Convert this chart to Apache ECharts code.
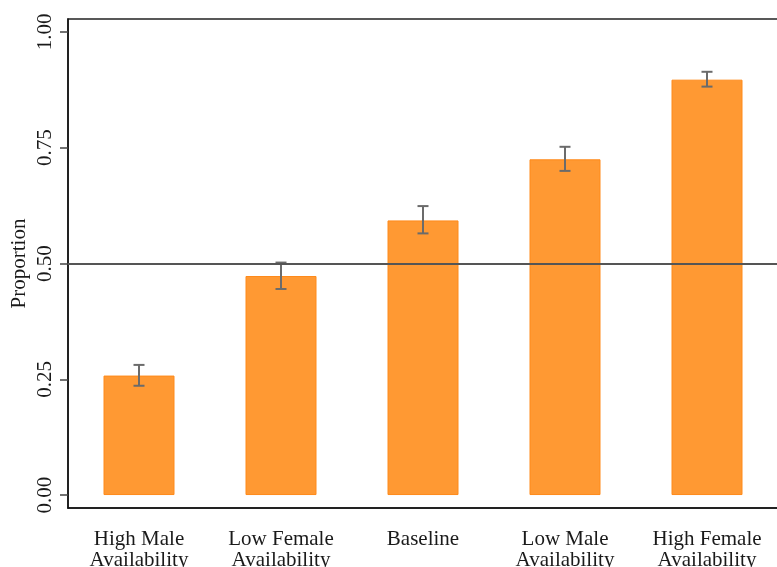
<!DOCTYPE html>
<html>
<head>
<meta charset="utf-8">
<script src="https://cdn.jsdelivr.net/npm/echarts@6/dist/echarts.min.js"></script>
<style>
  html, body { margin: 0; padding: 0; background: #fff; }
  #chart { width: 777px; height: 567px; }
</style>
</head>
<body>
<div id="chart"></div>
<script>
// Treatment conditions along the x axis
const categories = [
  'High Male\nAvailability',
  'Low Female\nAvailability',
  'Baseline',
  'Low Male\nAvailability',
  'High Female\nAvailability'
];
// Mean proportion per condition
const proportions = [0.258, 0.473, 0.593, 0.725, 0.897];
// Confidence interval bounds
const ciLower = [0.236, 0.445, 0.565, 0.700, 0.882];
const ciUpper = [0.281, 0.502, 0.624, 0.752, 0.914];
// Y axis tick values
const yTicks = [0, 0.25, 0.5, 0.75, 1.0];
const referenceLevel = 0.5;

const serif = '"Liberation Serif", "DejaVu Serif", serif';
const chart = echarts.init(document.getElementById('chart'), null, { renderer: 'canvas' });

const errorData = categories.map((c, i) => [i, ciLower[i], ciUpper[i]]);

chart.setOption({
  animation: false,
  backgroundColor: '#ffffff',
  grid: {
    left: 68, top: 19, width: 710, height: 489,
    outerBoundsMode: 'none',
    containLabel: false,
    show: true, borderColor: '#222', borderWidth: 1.5, backgroundColor: 'transparent'
  },
  xAxis: {
    type: 'category',
    data: categories,
    axisLine: { onZero: false, lineStyle: { color: '#111', width: 1.5 } },
    axisTick: { alignWithLabel: true, length: 8, lineStyle: { color: '#444', width: 1.5 } },
    axisLabel: {
      fontFamily: serif, fontSize: 21, color: '#1a1a1a',
      lineHeight: 21, margin: 21, interval: 0
    }
  },
  yAxis: {
    type: 'value',
    min: -0.028, max: 1.028,
    name: 'Proportion',
    nameLocation: 'middle',
    nameGap: 38,
    nameRotate: 90,
    nameMoveOverlap: false,
    nameTextStyle: { fontFamily: serif, fontSize: 21, color: '#1a1a1a' },
    axisLine: { show: true, onZero: false, lineStyle: { color: '#111', width: 1.5 } },
    axisTick: { show: true, length: 8, customValues: yTicks, lineStyle: { color: '#444', width: 1.5 } },
    axisLabel: {
      customValues: yTicks, rotate: 90, fontFamily: serif, fontSize: 21, color: '#1a1a1a',
      margin: 12,
      formatter: v => v.toFixed(2)
    },
    splitLine: { show: false }
  },
  series: [
    {
      type: 'line',
      data: [],
      z: 1,
      silent: true,
      markLine: {
        silent: true,
        symbol: 'none',
        label: { show: false },
        lineStyle: { color: '#555', width: 2, type: 'solid' },
        data: [{ yAxis: referenceLevel }]
      }
    },
    {
      type: 'bar',
      data: proportions,
      barWidth: '50%',
      z: 2,
      itemStyle: { color: '#ff9933', borderColor: '#ff8a1a', borderWidth: 1 }
    },
    {
      type: 'custom',
      z: 3,
      data: errorData,
      renderItem: function (params, api) {
        const x = api.value(0);
        const lo = api.coord([x, api.value(1)]);
        const hi = api.coord([x, api.value(2)]);
        const cap = 5.5;
        const style = { stroke: '#6b6b6b', lineWidth: 2 };
        return {
          type: 'group',
          children: [
            { type: 'line', shape: { x1: hi[0], y1: hi[1], x2: lo[0], y2: lo[1] }, style },
            { type: 'line', shape: { x1: hi[0] - cap, y1: hi[1], x2: hi[0] + cap, y2: hi[1] }, style },
            { type: 'line', shape: { x1: lo[0] - cap, y1: lo[1], x2: lo[0] + cap, y2: lo[1] }, style }
          ]
        };
      }
    }
  ]
});
</script>
</body>
</html>
